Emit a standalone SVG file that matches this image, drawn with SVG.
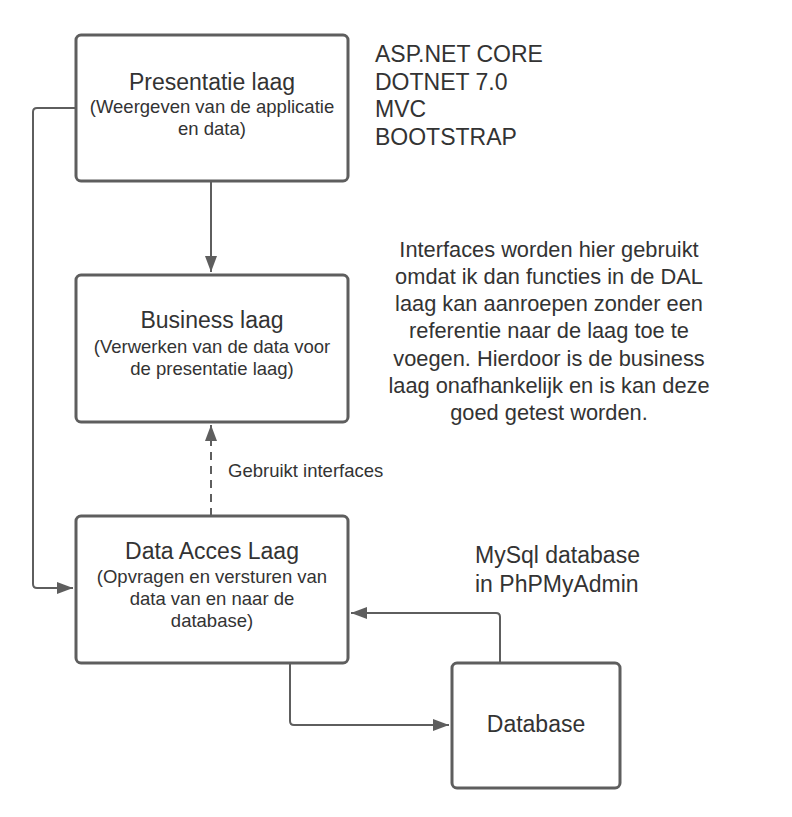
<svg xmlns="http://www.w3.org/2000/svg" width="792" height="817" viewBox="0 0 792 817">
<style>
.box{fill:#fff;stroke:#5e5e5e;stroke-width:3}
.ln{fill:none;stroke:#5e5e5e;stroke-width:2}
.t{font-family:"Liberation Sans",Arial,sans-serif;fill:#333}
.ttl{font-size:23px;text-anchor:middle}
.sub{font-size:18.5px;text-anchor:middle}
.lbl{font-size:23px}
.par{font-size:21.8px;text-anchor:middle}
</style>
<defs>
<marker id="ah" markerWidth="16" markerHeight="12" refX="16" refY="6" orient="auto" markerUnits="userSpaceOnUse">
<path d="M0,0 L16,6 L0,12 Z" fill="#5e5e5e"/>
</marker>
</defs>
<rect width="792" height="817" fill="#fff"/>
<g id="connectors">
<path class="ln" d="M211,181 V272" marker-end="url(#ah)"/>
<path class="ln" d="M211,516 V425" stroke-dasharray="8,6" marker-end="url(#ah)"/>
<path class="ln" d="M76,108 H37 Q33,108 33,112 V584 Q33,588 37,588 H73" marker-end="url(#ah)"/>
<path class="ln" d="M500,663 V617 Q500,613 496,613 H351" marker-end="url(#ah)"/>
<path class="ln" d="M290,663 V721 Q290,725 294,725 H449" marker-end="url(#ah)"/>
</g>
<g id="presentatie">
<rect class="box" x="76" y="35" width="272" height="146" rx="5"/>
<text class="t ttl" x="212" y="90">Presentatie laag</text>
<text class="t sub" x="212" y="113">(Weergeven van de applicatie</text>
<text class="t sub" x="212" y="135">en data)</text>
</g>
<g id="business">
<rect class="box" x="76" y="275" width="272" height="147" rx="5"/>
<text class="t ttl" x="212" y="328">Business laag</text>
<text class="t sub" x="212" y="353">(Verwerken van de data voor</text>
<text class="t sub" x="212" y="375">de presentatie laag)</text>
</g>
<g id="dal">
<rect class="box" x="76" y="516" width="272" height="147" rx="5"/>
<text class="t ttl" x="212" y="559">Data Acces Laag</text>
<text class="t sub" x="212" y="583">(Opvragen en versturen van</text>
<text class="t sub" x="212" y="605">data van en naar de</text>
<text class="t sub" x="212" y="627">database)</text>
</g>
<g id="database">
<rect class="box" x="452" y="663" width="168" height="125" rx="5"/>
<text class="t ttl" x="536" y="732">Database</text>
</g>
<g id="labels">
<text class="t" x="228" y="477" font-size="18.5">Gebruikt interfaces</text>
<text class="t lbl" x="375" y="62">ASP.NET CORE</text>
<text class="t lbl" x="375" y="90">DOTNET 7.0</text>
<text class="t lbl" x="375" y="117">MVC</text>
<text class="t lbl" x="375" y="145">BOOTSTRAP</text>
<text class="t lbl" x="475" y="563">MySql database</text>
<text class="t lbl" x="475" y="592">in PhPMyAdmin</text>
<text class="t par" x="549" y="257">Interfaces worden hier gebruikt</text>
<text class="t par" x="549" y="284">omdat ik dan functies in de DAL</text>
<text class="t par" x="549" y="311">laag kan aanroepen zonder een</text>
<text class="t par" x="549" y="338">referentie naar de laag toe te</text>
<text class="t par" x="549" y="366">voegen. Hierdoor is de business</text>
<text class="t par" x="549" y="393">laag onafhankelijk en is kan deze</text>
<text class="t par" x="549" y="420">goed getest worden.</text>
</g>
</svg>
